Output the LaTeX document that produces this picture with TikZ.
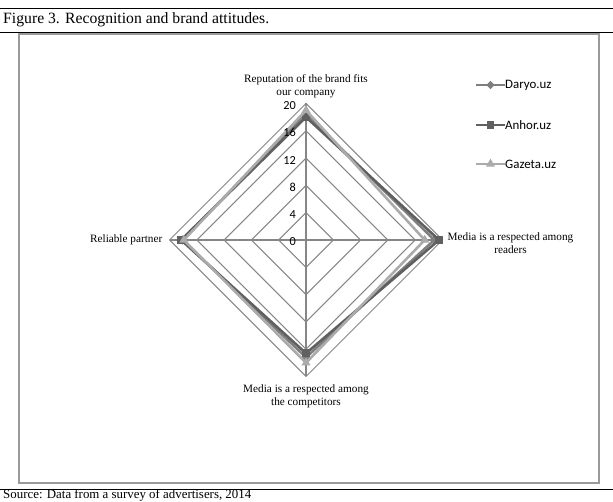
\documentclass[tikz,border=0pt]{standalone}
\usepackage{fontspec}
\setmainfont{Liberation Serif}
\newfontfamily\chartfont{Carlito}
\usepackage{xcolor}
\usepackage{tikz}
\usetikzlibrary{shapes.geometric, calc}

\definecolor{daryo}{HTML}{7F7F7F}
\definecolor{anhor}{HTML}{606060}
\definecolor{gazeta}{HTML}{ABABAB}
\definecolor{gridgray}{HTML}{868686}
\definecolor{framegray}{HTML}{9A9A9A}

\begin{document}
\begin{tikzpicture}[
    x=0.03cm, y=0.03cm,
    rule/.style={draw=black, line width=0.8pt},
    frame/.style={draw=framegray, line width=1.6pt},
    web/.style={draw=gridgray, line width=0.9pt},
    axislbl/.style={font=\fontsize{9.6}{11}\selectfont, align=center, inner sep=0pt},
    tick/.style={font=\chartfont\fontsize{10.5}{11}\selectfont, anchor=east, inner sep=0pt},
    series/.style={line width=2.2pt, line join=round},
    mdiamond/.style={diamond, inner sep=0pt, minimum size=8pt},
    msquare/.style={rectangle, inner sep=0pt, minimum size=6.5pt},
    mtriangle/.style={regular polygon, regular polygon sides=3, inner sep=0pt, minimum size=9pt},
    legend/.style={font=\chartfont\fontsize{11}{13}\selectfont, anchor=west, inner sep=0pt}
]
    \useasboundingbox (0,0) rectangle (613,502);

    \draw[rule] (0,494) -- (613,494);
    \draw[rule] (0,470) -- (613,470);
    \draw[rule] (0,13) -- (613,13);
    \node[anchor=west, font=\fontsize{13.4}{15}\selectfont, inner sep=0pt] (title) at (3,482)
        {Figure 3. Recognition and brand attitudes.};
    \node[anchor=base west, font=\fontsize{11}{12}\selectfont, inner sep=0pt] (source) at (3,3.4)
        {Source: Data from a survey of advertisers, 2014};
    \draw[frame] (19,19) rectangle (599,468);

    \begin{scope}[shift={(306,262)}]
        \coordinate (center) at (0,0);
        \foreach \r in {4,8,...,20}
            \draw[web] (90:\r*6.825) -- (0:\r*6.825) -- (270:\r*6.825) -- (180:\r*6.825) -- cycle;
        \foreach \a/\n in {90/top, 0/right, 270/bottom, 180/left}
            \draw[web] (center) -- (\a:136.5) coordinate (ax-\n);

        \node[axislbl, anchor=south] (lbl-top) at ($(ax-top)+(0,5)$)
            {Reputation of the brand fits\\our company};
        \node[axislbl, anchor=west] (lbl-right) at ($(ax-right)+(5,-3)$)
            {Media is a respected among\\readers};
        \node[axislbl, anchor=north] (lbl-bottom) at ($(ax-bottom)+(0,-8)$)
            {Media is a respected among\\the competitors};
        \node[axislbl, anchor=east] (lbl-left) at ($(ax-left)+(-7,0)$) {Reliable partner};

        \foreach \s/\m/\t/\rr/\b/\l in {daryo/mdiamond/18.5/18.8/17.2/18.1,
                                         anhor/msquare/18/19.5/16.6/18.3,
                                         gazeta/mtriangle/19/17.4/18/17.9} {
            \coordinate (\s-1) at (90:\t*6.825);
            \coordinate (\s-2) at (0:\rr*6.825);
            \coordinate (\s-3) at (270:\b*6.825);
            \coordinate (\s-4) at (180:\l*6.825);
            \draw[series, draw=\s] (\s-1) -- (\s-2) -- (\s-3) -- (\s-4) -- cycle;
            \foreach \k in {1,...,4}
                \node[style/.expanded=\m, fill=\s] at (\s-\k) {};
        }

        \foreach \v in {0,4,...,20}
            \node[tick] (tick-\v) at (-10,\v*6.825-2) {\v};
    \end{scope}

    \foreach \s/\n/\y in {daryo/Daryo.uz/417, anhor/Anhor.uz/377, gazeta/Gazeta.uz/338}
        \node[legend] (leg-\s) at (505,\y) {\n};
    \foreach \s/\m in {daryo/mdiamond, anhor/msquare, gazeta/mtriangle} {
        \coordinate (legstart-\s) at ($(leg-\s.west)+(-29,0)$);
        \draw[series, draw=\s] (legstart-\s) -- (leg-\s.west)
            node[midway, style/.expanded=\m, fill=\s] {};
    }
\end{tikzpicture}
\end{document}
